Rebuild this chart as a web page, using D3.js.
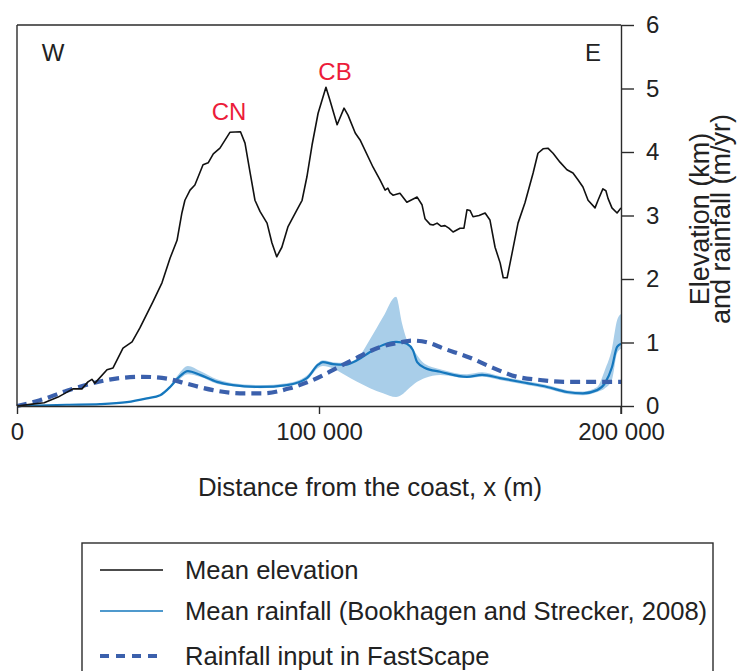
<!DOCTYPE html>
<html><head><meta charset="utf-8">
<script src="https://cdn.jsdelivr.net/npm/d3@7"></script>
<style>body{margin:0;background:#fff}svg{display:block;font-family:"Liberation Sans",Arial,sans-serif}</style>
</head><body><svg id="c" width="737" height="671"></svg>
<script>
// Mean elevation (km) vs distance (m)
const elevX = [0,5000,9000,13600,18500,21500,23500,24800,25800,29800,31800,35100,38100,40700,45000,48000,50700,53000,54600,55600,57300,58900,61600,63300,65000,67200,70500,74000,75500,77200,78800,80500,82800,84400,86000,87700,89700,92700,94400,96000,97700,99700,102300,103600,106000,108300,109600,112000,113600,117900,120200,121900,122800,123500,124500,126800,129100,132500,134100,135100,136800,137800,139100,140500,141700,143000,144400,146700,148000,149000,150000,151000,153000,155000,156600,158300,160000,161000,162300,163900,165900,168200,170900,172500,174200,175800,177500,179800,182100,184100,185800,187400,189100,191400,192400,194000,195000,195700,197000,198700,200000];
const elevY = [0,0.03,0.05,0.14,0.27,0.27,0.38,0.42,0.36,0.57,0.6,0.91,1.01,1.23,1.64,1.94,2.33,2.61,3.04,3.24,3.4,3.48,3.8,3.83,3.97,4.06,4.31,4.32,4.14,3.67,3.24,3.06,2.88,2.57,2.35,2.5,2.82,3.09,3.24,3.61,4.11,4.61,5.02,4.82,4.43,4.69,4.58,4.3,4.19,3.76,3.56,3.4,3.43,3.36,3.32,3.35,3.21,3.29,3.17,2.95,2.86,2.85,2.88,2.83,2.84,2.8,2.74,2.8,2.8,3.09,3.08,2.98,3.0,3.04,2.93,2.5,2.25,2.02,2.02,2.4,2.88,3.2,3.67,3.98,4.05,4.06,3.98,3.84,3.72,3.67,3.56,3.45,3.24,3.12,3.24,3.42,3.39,3.27,3.12,3.04,3.12];

// Mean rainfall (m/yr) with range band
const rainX    = [0,16500,27500,36400,43000,47400,50700,53300,56600,60600,66200,71500,80500,89400,96000,99700,101300,104600,108600,112600,116900,121200,125500,127500,129100,131100,132500,135100,140100,149000,154000,159900,168900,175500,182100,187400,192100,194700,197000,198700,200000];
const rainMean = [0,0.02,0.03,0.06,0.12,0.17,0.30,0.44,0.55,0.49,0.38,0.33,0.30,0.33,0.44,0.65,0.69,0.66,0.65,0.72,0.85,0.96,1.01,1.00,0.98,0.88,0.69,0.60,0.54,0.46,0.49,0.44,0.36,0.30,0.22,0.20,0.25,0.36,0.61,0.93,0.98];
const rainLo   = [0,0.02,0.03,0.06,0.12,0.17,0.28,0.40,0.50,0.46,0.35,0.31,0.28,0.31,0.41,0.60,0.63,0.59,0.49,0.38,0.28,0.20,0.14,0.18,0.25,0.33,0.38,0.44,0.49,0.44,0.46,0.41,0.33,0.27,0.19,0.17,0.22,0.28,0.41,0.83,0.90];
const rainHi   = [0,0.02,0.03,0.06,0.12,0.17,0.32,0.49,0.63,0.55,0.42,0.36,0.33,0.36,0.48,0.68,0.72,0.69,0.68,0.75,1.05,1.40,1.72,1.30,1.04,0.90,0.80,0.66,0.58,0.50,0.53,0.47,0.39,0.33,0.25,0.23,0.30,0.57,0.90,1.35,1.45];

// Rainfall input in FastScape (m/yr)
const fsX = [0,7600,16500,25200,34100,41700,49700,56300,64900,73800,81500,90400,98000,106000,112600,119200,126800,131000,136000,141000,150000,157600,165600,173200,182100,190000,200000];
const fsY = [0,0.09,0.24,0.36,0.44,0.46,0.43,0.35,0.25,0.20,0.20,0.28,0.41,0.60,0.76,0.91,1.00,1.03,1.00,0.91,0.76,0.60,0.46,0.41,0.38,0.38,0.38];

const xTicks = [0,100000,200000];
const xTickLabels = ["0","100 000","200 000"];
const yTicks = [0,1,2,3,4,5,6];

const svg = d3.select("#c");
const L = 17, R = 621, T = 25, B = 406;
const x = d3.scaleLinear().domain([0,200000]).range([L,R]);
const y = d3.scaleLinear().domain([0,6]).range([B,T]);
const axisColor = "#2b2b2b";
const txt = "#222";

// band
const band = d3.area().x((d,i)=>x(rainX[i])).y0((d,i)=>y(rainLo[i])).y1((d,i)=>y(rainHi[i])).curve(d3.curveMonotoneX);
svg.append("path").attr("d", band(rainX)).attr("fill","#a9cee9");

// mean rainfall
const lineR = d3.line().x((d,i)=>x(rainX[i])).y((d,i)=>y(rainMean[i])).curve(d3.curveMonotoneX);
svg.append("path").attr("d", lineR(rainX)).attr("fill","none").attr("stroke","#1577bd").attr("stroke-width",2.2);

// FastScape
const lineF = d3.line().x((d,i)=>x(fsX[i])).y((d,i)=>y(fsY[i])).curve(d3.curveMonotoneX);
svg.append("path").attr("d", lineF(fsX)).attr("fill","none").attr("stroke","#3b60ac").attr("stroke-width",4.2).attr("stroke-dasharray","10,6");

// elevation
const lineE = d3.line().x((d,i)=>x(elevX[i])).y((d,i)=>y(elevY[i]));
svg.append("path").attr("d", lineE(elevX)).attr("fill","none").attr("stroke","#111").attr("stroke-width",1.6).attr("stroke-linejoin","round");

// frame top & left
svg.append("line").attr("x1",L).attr("x2",R).attr("y1",T).attr("y2",T).attr("stroke",axisColor).attr("stroke-width",1.4);
svg.append("line").attr("x1",L).attr("x2",L).attr("y1",T).attr("y2",B).attr("stroke",axisColor).attr("stroke-width",1.4);

// bottom axis
const gx = svg.append("g").attr("transform",`translate(0,${B})`)
  .call(d3.axisBottom(x).tickValues(xTicks).tickSize(8).tickSizeOuter(0).tickPadding(9).tickFormat((d,i)=>xTickLabels[i]));
gx.selectAll("path,line").attr("stroke",axisColor).attr("stroke-width",1.4);
gx.selectAll("text").attr("font-size",24).attr("fill",txt).attr("font-family","Liberation Sans, Arial, sans-serif");

// right axis
const gy = svg.append("g").attr("transform",`translate(${R},0)`)
  .call(d3.axisRight(y).tickValues(yTicks).tickSize(13).tickSizeOuter(0).tickPadding(12).tickFormat(d3.format("d")));
gy.selectAll("path,line").attr("stroke",axisColor).attr("stroke-width",1.4);
gy.selectAll("text").attr("font-size",24).attr("fill",txt).attr("font-family","Liberation Sans, Arial, sans-serif");
svg.append("line").attr("x1",R).attr("x2",R).attr("y1",B).attr("y2",B+8).attr("stroke",axisColor).attr("stroke-width",1.4);

// axis titles
svg.append("text").attr("x",370).attr("y",496).attr("text-anchor","middle").attr("font-size",25.8).attr("fill",txt).text("Distance from the coast, x (m)");
const yt = svg.append("text").attr("transform","translate(709,219) rotate(-90)").attr("text-anchor","middle").attr("font-size",27).attr("fill",txt);
yt.append("tspan").attr("x",0).attr("dy",0).text("Elevation (km)");
yt.append("tspan").attr("x",0).attr("dy",21).text("and rainfall (m/yr)");

// annotations
svg.append("text").attr("x",53).attr("y",61).attr("text-anchor","middle").attr("font-size",24).attr("fill",txt).text("W");
svg.append("text").attr("x",593).attr("y",61).attr("text-anchor","middle").attr("font-size",24).attr("fill",txt).text("E");
svg.append("text").attr("x",229).attr("y",120).attr("text-anchor","middle").attr("font-size",24).attr("fill","#ec1c3a").text("CN");
svg.append("text").attr("x",335).attr("y",80).attr("text-anchor","middle").attr("font-size",24).attr("fill","#ec1c3a").text("CB");

// legend
svg.append("rect").attr("x",82).attr("y",543).attr("width",631).attr("height",140).attr("fill","none").attr("stroke",axisColor).attr("stroke-width",1.4);
const leg = [
  {label:"Mean elevation", stroke:"#111", w:1.4, dash:null, yy:570},
  {label:"Mean rainfall (Bookhagen and Strecker, 2008)", stroke:"#1577bd", w:1.6, dash:null, yy:611},
  {label:"Rainfall input in FastScape", stroke:"#3b60ac", w:4.2, dash:"9,7", yy:656}
];
leg.forEach(l=>{
  svg.append("line").attr("x1",100).attr("x2",163).attr("y1",l.yy).attr("y2",l.yy).attr("stroke",l.stroke).attr("stroke-width",l.w).attr("stroke-dasharray",l.dash);
  svg.append("text").attr("x",185).attr("y",l.yy+9).attr("font-size",25.6).attr("fill",txt).text(l.label);
});
</script></body></html>
